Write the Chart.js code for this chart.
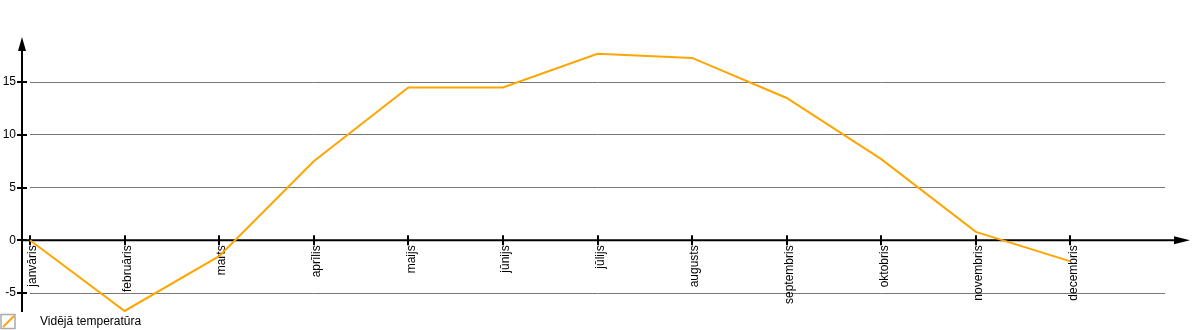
<!DOCTYPE html>
<html>
<head>
<meta charset="utf-8">
<script src="https://cdn.jsdelivr.net/npm/chart.js@4.4.1/dist/chart.umd.min.js"></script>
<style>
  html, body { margin: 0; padding: 0; background: #fff; }
  #wrap { width: 1200px; height: 330px; }
</style>
</head>
<body>
<div id="wrap"><canvas id="tempChart" width="1200" height="330"></canvas></div>
<script>
// Average monthly temperature
const months = ['janvāris', 'februāris', 'marts', 'aprīlis', 'maijs', 'jūnijs',
  'jūlijs', 'augusts', 'septembris', 'oktobris', 'novembris', 'decembris'];
const avgTemp = [0, -6.7, -1.5, 7.5, 14.5, 14.5, 17.7, 17.3, 13.5, 7.7, 0.8, -2.0];
const yTicks = [-5, 0, 5, 10, 15];
const seriesLabel = 'Vidējā temperatūra';

const lineColor = '#FFA500';

Chart.defaults.font.family = '"Liberation Sans", Arial, sans-serif';
Chart.defaults.font.size = 12;
Chart.defaults.color = '#000';

// axes with arrows, tick marks and the legend are drawn by hand
const axesPlugin = {
  id: 'axesPlugin',
  beforeDatasetsDraw(chart) {
    const { ctx, chartArea, scales } = chart;
    const x = scales.x, y = scales.y;
    const axisX = chartArea.left - 8;
    const zeroY = y.getPixelForValue(0);
    const top = chartArea.top - 3;
    const bottom = y.getPixelForValue(y.min);
    const tipX = chartArea.right + 25;

    ctx.save();
    ctx.strokeStyle = '#000';
    ctx.fillStyle = '#000';
    ctx.lineWidth = 2;

    // y axis
    ctx.beginPath();
    ctx.moveTo(axisX, bottom);
    ctx.lineTo(axisX, top + 10);
    ctx.stroke();
    ctx.beginPath();
    ctx.moveTo(axisX, top);
    ctx.lineTo(axisX - 4, top + 14);
    ctx.lineTo(axisX + 4, top + 14);
    ctx.closePath();
    ctx.fill();

    // x axis
    ctx.beginPath();
    ctx.moveTo(axisX, zeroY);
    ctx.lineTo(tipX - 10, zeroY);
    ctx.stroke();
    ctx.beginPath();
    ctx.moveTo(tipX, zeroY);
    ctx.lineTo(tipX - 16, zeroY - 4);
    ctx.lineTo(tipX - 16, zeroY + 4);
    ctx.closePath();
    ctx.fill();

    // tick marks
    yTicks.forEach(v => {
      const py = Math.round(y.getPixelForValue(v));
      ctx.beginPath();
      ctx.moveTo(axisX - 5, py);
      ctx.lineTo(axisX + 5, py);
      ctx.stroke();
    });
    months.forEach((m, i) => {
      const px = Math.round(x.getPixelForValue(i));
      ctx.beginPath();
      ctx.moveTo(px, zeroY - 5);
      ctx.lineTo(px, zeroY + 5);
      ctx.stroke();
    });
    ctx.restore();
  },
  afterDraw(chart) {
    const { ctx } = chart;
    const ly = 314;
    ctx.save();
    ctx.strokeStyle = '#aaa';
    ctx.lineWidth = 1.5;
    ctx.strokeRect(1, ly + 0.5, 14, 14);
    ctx.strokeStyle = lineColor;
    ctx.lineWidth = 2;
    ctx.beginPath();
    ctx.moveTo(3, ly + 13);
    ctx.lineTo(14, ly + 2);
    ctx.stroke();
    ctx.fillStyle = '#000';
    ctx.font = '12px "Liberation Sans", Arial, sans-serif';
    ctx.textBaseline = 'middle';
    ctx.fillText(chart.data.datasets[0].label, 40, ly + 8);
    ctx.restore();
  }
};

new Chart(document.getElementById('tempChart'), {
  type: 'line',
  data: {
    labels: months.concat(['']),
    datasets: [{
      label: seriesLabel,
      data: avgTemp,
      borderColor: lineColor,
      borderWidth: 2,
      pointRadius: 0,
      tension: 0,
      fill: false,
      clip: false
    }]
  },
  options: {
    responsive: false,
    animation: false,
    layout: { padding: { top: 40, bottom: 18, left: 0, right: 35 } },
    plugins: {
      legend: { display: false },
      tooltip: { enabled: false }
    },
    scales: {
      x: {
        type: 'category',
        offset: false,
        position: { y: 0 },
        grid: { display: false },
        border: { display: false },
        ticks: { minRotation: 90, maxRotation: 90, autoSkip: false, padding: -3, labelOffset: 3 }
      },
      y: {
        min: -6.8,
        max: 19,
        afterBuildTicks: (scale) => { scale.ticks = yTicks.map(v => ({ value: v })); },
        afterFit: (scale) => { scale.width = 30; },
        grid: { color: '#777', lineWidth: 1, drawTicks: true, tickLength: 12, tickColor: 'rgba(0,0,0,0)' },
        border: { display: false },
        ticks: { padding: 2 }
      }
    }
  },
  plugins: [axesPlugin]
});
</script>
</body>
</html>
